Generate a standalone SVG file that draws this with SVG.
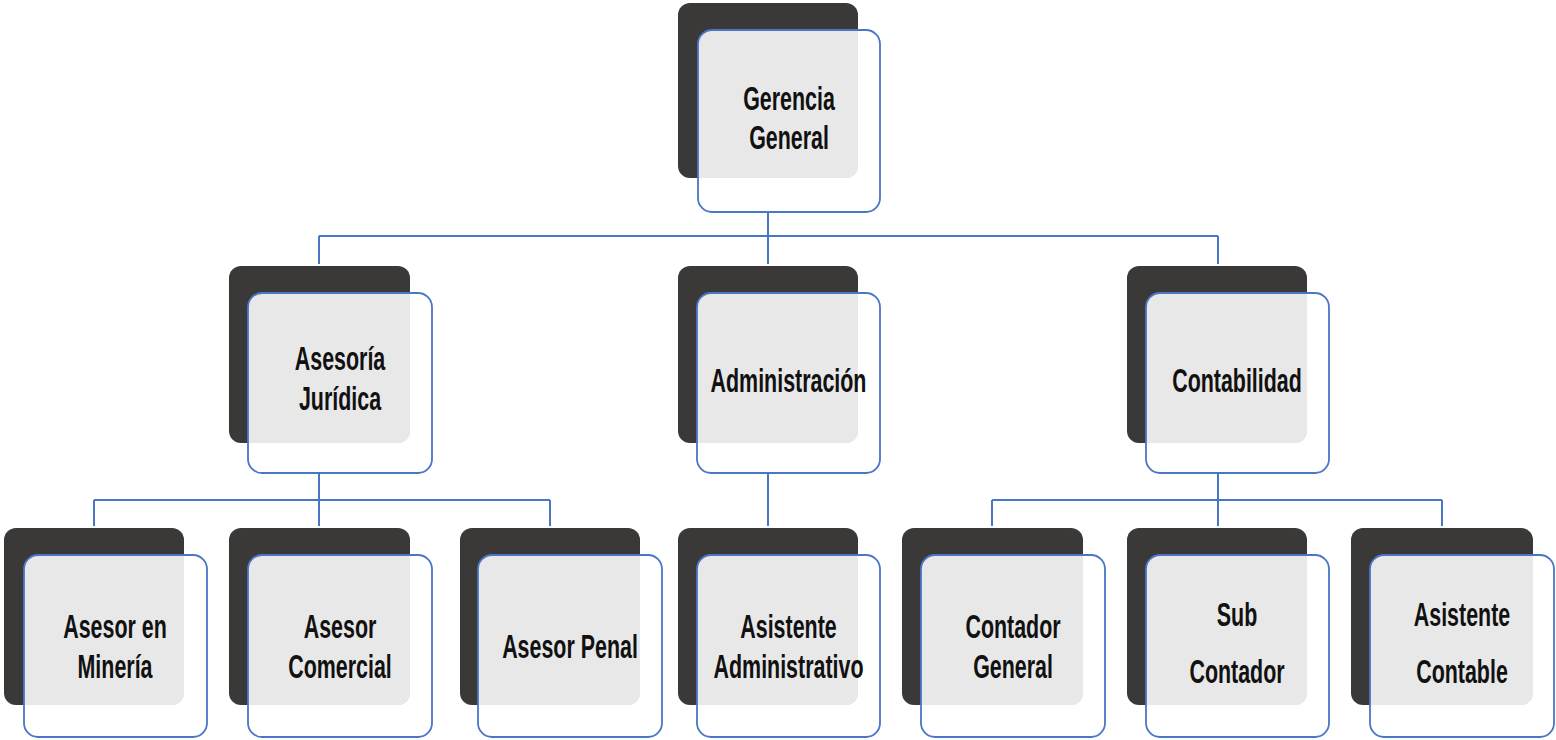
<svg xmlns="http://www.w3.org/2000/svg" width="1556" height="740" viewBox="0 0 1556 740">
<style>
.dk{fill:#3a3938}
.fw{fill:#ffffff;fill-opacity:0.82}
.gy{fill:#e8e8e8}
.ol{fill:none;stroke:#4a76c6;stroke-width:1.8}
.cn{fill:none;stroke:#4a76c6;stroke-width:2}
.t{font-family:"Liberation Sans",Arial,sans-serif;font-weight:bold;font-size:34px;fill:#111111;text-anchor:middle}
</style>
<rect width="1556" height="740" fill="#ffffff"/>
<g id="connectors">
<path class="cn" d="M768,212 V236 M319,236 H1218 M319,236 V264 M768,236 V264 M1218,236 V264"/>
<path class="cn" d="M319,473 V500 M94,500 H550 M94,500 V526 M319,500 V526 M550,500 V526"/>
<path class="cn" d="M768,473 V526"/>
<path class="cn" d="M1218,473 V500 M992,500 H1442 M992,500 V526 M1218,500 V526 M1442,500 V526"/>
</g>
<g id="n-gerencia">
<rect class="dk" x="678" y="3" width="180" height="175" rx="12"/>
<rect class="fw" x="698" y="30" width="182" height="182" rx="14"/>
<path class="gy" d="M712,30 H858 V166 A12 12 0 0 1 846 178 H698 V44 A14 14 0 0 1 712 30 Z"/>
<rect class="ol" x="698" y="30" width="182" height="182" rx="14"/>
<text class="t" transform="translate(789,110) scale(0.63,1)">Gerencia</text>
<text class="t" transform="translate(789,149) scale(0.63,1)">General</text>
</g>
<g id="n-asesoria">
<rect class="dk" x="229" y="266" width="181" height="177" rx="12"/>
<rect class="fw" x="248" y="293" width="184" height="180" rx="14"/>
<path class="gy" d="M262,293 H410 V431 A12 12 0 0 1 398 443 H248 V307 A14 14 0 0 1 262 293 Z"/>
<rect class="ol" x="248" y="293" width="184" height="180" rx="14"/>
<text class="t" transform="translate(340,370) scale(0.63,1)">Asesoría</text>
<text class="t" transform="translate(340,410) scale(0.63,1)">Jurídica</text>
</g>
<g id="n-admin">
<rect class="dk" x="678" y="266" width="180" height="177" rx="12"/>
<rect class="fw" x="697" y="293" width="183" height="180" rx="14"/>
<path class="gy" d="M711,293 H858 V431 A12 12 0 0 1 846 443 H697 V307 A14 14 0 0 1 711 293 Z"/>
<rect class="ol" x="697" y="293" width="183" height="180" rx="14"/>
<text class="t" transform="translate(788.5,392) scale(0.63,1)">Administración</text>
</g>
<g id="n-conta">
<rect class="dk" x="1127" y="266" width="180" height="177" rx="12"/>
<rect class="fw" x="1146" y="293" width="183" height="180" rx="14"/>
<path class="gy" d="M1160,293 H1307 V431 A12 12 0 0 1 1295 443 H1146 V307 A14 14 0 0 1 1160 293 Z"/>
<rect class="ol" x="1146" y="293" width="183" height="180" rx="14"/>
<text class="t" transform="translate(1237,392) scale(0.63,1)">Contabilidad</text>
</g>
<g id="n-mineria">
<rect class="dk" x="4" y="528" width="180" height="177" rx="12"/>
<rect class="fw" x="24" y="555" width="183" height="182" rx="14"/>
<path class="gy" d="M38,555 H184 V693 A12 12 0 0 1 172 705 H24 V569 A14 14 0 0 1 38 555 Z"/>
<rect class="ol" x="24" y="555" width="183" height="182" rx="14"/>
<text class="t" transform="translate(115,638) scale(0.63,1)">Asesor en</text>
<text class="t" transform="translate(115,678) scale(0.63,1)">Minería</text>
</g>
<g id="n-comercial">
<rect class="dk" x="229" y="528" width="181" height="177" rx="12"/>
<rect class="fw" x="248" y="555" width="184" height="182" rx="14"/>
<path class="gy" d="M262,555 H410 V693 A12 12 0 0 1 398 705 H248 V569 A14 14 0 0 1 262 555 Z"/>
<rect class="ol" x="248" y="555" width="184" height="182" rx="14"/>
<text class="t" transform="translate(340,638) scale(0.63,1)">Asesor</text>
<text class="t" transform="translate(340,678) scale(0.63,1)">Comercial</text>
</g>
<g id="n-penal">
<rect class="dk" x="460" y="528" width="180" height="177" rx="12"/>
<rect class="fw" x="478" y="555" width="184" height="182" rx="14"/>
<path class="gy" d="M492,555 H640 V693 A12 12 0 0 1 628 705 H478 V569 A14 14 0 0 1 492 555 Z"/>
<rect class="ol" x="478" y="555" width="184" height="182" rx="14"/>
<text class="t" transform="translate(570,658) scale(0.63,1)">Asesor Penal</text>
</g>
<g id="n-asist-admin">
<rect class="dk" x="678" y="528" width="180" height="177" rx="12"/>
<rect class="fw" x="697" y="555" width="183" height="182" rx="14"/>
<path class="gy" d="M711,555 H858 V693 A12 12 0 0 1 846 705 H697 V569 A14 14 0 0 1 711 555 Z"/>
<rect class="ol" x="697" y="555" width="183" height="182" rx="14"/>
<text class="t" transform="translate(788.5,638) scale(0.63,1)">Asistente</text>
<text class="t" transform="translate(788.5,678) scale(0.63,1)">Administrativo</text>
</g>
<g id="n-contador">
<rect class="dk" x="902" y="528" width="181" height="177" rx="12"/>
<rect class="fw" x="921" y="555" width="184" height="182" rx="14"/>
<path class="gy" d="M935,555 H1083 V693 A12 12 0 0 1 1071 705 H921 V569 A14 14 0 0 1 935 555 Z"/>
<rect class="ol" x="921" y="555" width="184" height="182" rx="14"/>
<text class="t" transform="translate(1013,638) scale(0.63,1)">Contador</text>
<text class="t" transform="translate(1013,678) scale(0.63,1)">General</text>
</g>
<g id="n-sub">
<rect class="dk" x="1127" y="528" width="180" height="177" rx="12"/>
<rect class="fw" x="1146" y="555" width="183" height="182" rx="14"/>
<path class="gy" d="M1160,555 H1307 V693 A12 12 0 0 1 1295 705 H1146 V569 A14 14 0 0 1 1160 555 Z"/>
<rect class="ol" x="1146" y="555" width="183" height="182" rx="14"/>
<text class="t" transform="translate(1237,626) scale(0.63,1)">Sub</text>
<text class="t" transform="translate(1237,683) scale(0.63,1)">Contador</text>
</g>
<g id="n-asist-cont">
<rect class="dk" x="1351" y="528" width="182" height="177" rx="12"/>
<rect class="fw" x="1370" y="555" width="184" height="182" rx="14"/>
<path class="gy" d="M1384,555 H1533 V693 A12 12 0 0 1 1521 705 H1370 V569 A14 14 0 0 1 1384 555 Z"/>
<rect class="ol" x="1370" y="555" width="184" height="182" rx="14"/>
<text class="t" transform="translate(1462,626) scale(0.63,1)">Asistente</text>
<text class="t" transform="translate(1462,683) scale(0.63,1)">Contable</text>
</g>
</svg>
